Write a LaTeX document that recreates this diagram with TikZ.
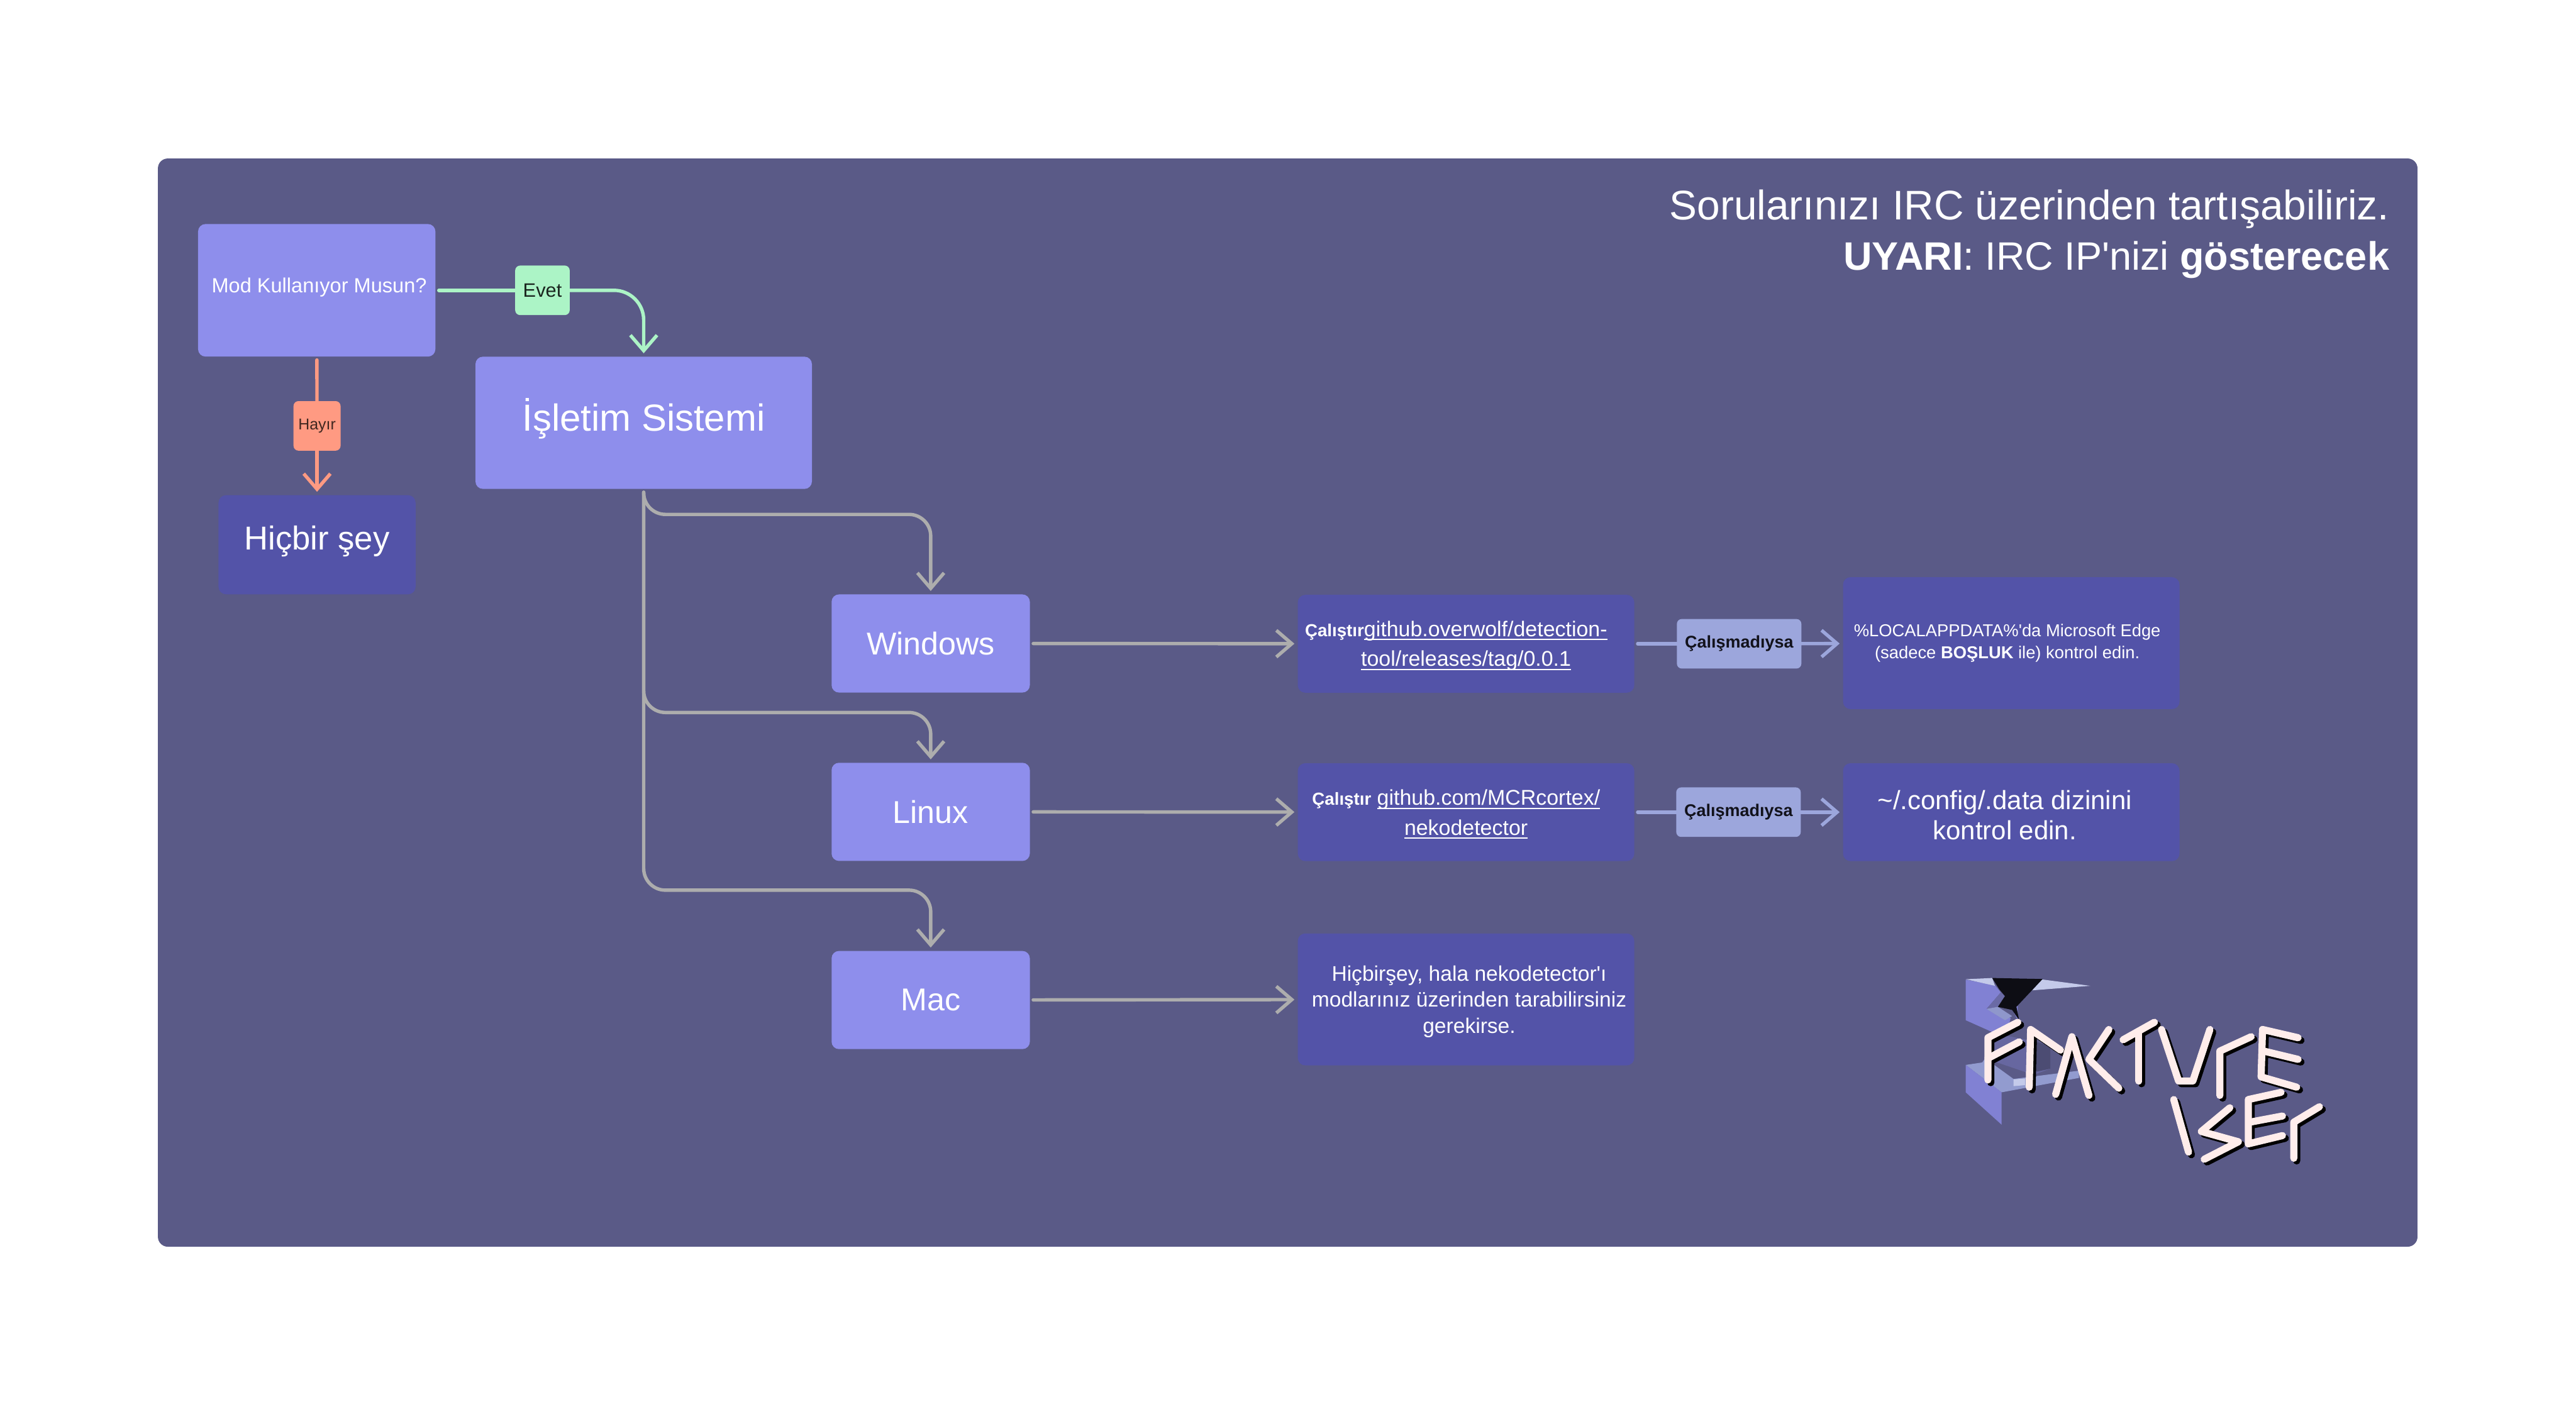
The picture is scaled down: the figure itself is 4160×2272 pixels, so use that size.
\documentclass[tikz,border=0pt]{standalone}
\usepackage{fontspec}
\setmainfont{Liberation Sans}
\usetikzlibrary{arrows.meta,calc,positioning,shapes}
\definecolor{panelcol}{HTML}{5A5A87}
\definecolor{lightcol}{HTML}{8E8EEC}
\definecolor{darkcol}{HTML}{5353A8}
\definecolor{yescol}{HTML}{ACF4C6}
\definecolor{nocol}{HTML}{FF9A82}
\definecolor{failcol}{HTML}{9CA6DC}
\definecolor{flowcol}{HTML}{ADADAD}
\definecolor{inkcol}{HTML}{FFEDEB}
\newcommand{\linkline}[1]{\leavevmode\setbox0\hbox{#1}\rlap{\rule[-1.7pt]{\wd0}{0.6pt}}\box0}
\newcommand{\dropline}[1]{\rule{0pt}{#1}}
\tikzset{
  every node/.style = {inner sep=0, outer sep=0.055cm, text=white, align=center},
  block/.style = {rectangle, rounded corners=0.12cm, minimum width=#1},
  light/.style = {block=3.2cm, fill=lightcol, minimum height=1.585cm, font=\fontsize{14.5}{18}\selectfont},
  dark/.style = {block=5.43cm, fill=darkcol},
  tag/.style = {rectangle, rounded corners=0.08cm, minimum height=0.8cm, outer sep=0, text=#1},
  fail/.style = {tag=black!80!panelcol, fill=failcol, minimum width=2.01cm, font=\fontsize{7.8}{10}\selectfont\bfseries},
  line/.style = {line width=0.055cm, line cap=round},
  arrow/.style = {line, -{Straight Barb[length=0.25cm, width=0.43cm]}},
  flow/.style = {arrow, draw=flowcol},
  inkback/.style = {line width=0.115cm, line cap=round, line join=round, draw=black},
  ink/.style = {line width=0.115cm, line cap=round, line join=round, draw=inkcol}
}
\begin{document}
\begin{tikzpicture}[x=0.01cm, y=-0.01cm]
  \useasboundingbox (0,0) rectangle (4160,2272);
  \fill[panelcol, rounded corners=0.16cm] (255,256) rectangle (3904,2014);

  \node[anchor=east, align=right, font=\fontsize{19}{23}\selectfont] (note) at (3864,378)
    {Sorularınızı IRC üzerinden tartışabiliriz.\\{\fontsize{18.2}{23}\selectfont\textbf{UYARI}: IRC IP\textquotesingle nizi \textbf{gösterecek}}};

  \node[block=3.83cm, fill=lightcol, minimum height=2.14cm, text height=0.33cm, text depth=0.25cm,
    font=\fontsize{9.4}{12}\selectfont] (mod) at (511.5,469) {\hspace*{0.8mm}Mod Kullanıyor Musun?};
  \node[block=5.43cm, fill=lightcol, minimum height=2.135cm, text height=0.6cm, text depth=0.33cm,
    font=\fontsize{17.3}{20}\selectfont] (os) at (1039.5,683) {İşletim Sistemi};
  \node[block=3.18cm, fill=darkcol, minimum height=1.6cm, text height=0.5cm, text depth=0.34cm,
    font=\fontsize{15.2}{18}\selectfont] (none) at (512,880) {Hiçbir şey};
  \node[tag=black!85!yescol, fill=yescol, minimum width=0.88cm, font=\fontsize{8.9}{10}\selectfont] (yes) at (876,469) {Evet};
  \node[tag=black!75!nocol, fill=nocol, minimum width=0.76cm, font=\fontsize{7.2}{9}\selectfont] (no) at (512,688) {Hayır};

  \foreach \name/\txt/\y in {win/Windows/1039.5, lin/Linux/1311.5, mac/Mac/1615.5} {
    \node[light] (\name) at (1503,\y) {\txt};
  }
  \node[dark, minimum height=1.58cm, font=\fontsize{9.8}{13.7}\selectfont] (winrun) at (2367.5,1040)
    {\dropline{9pt}\hspace*{-3.2mm}{\fontsize{8}{9}\selectfont\textbf{Çalıştır}}\linkline{github.overwolf/detection-}\\\linkline{tool/releases/tag/0.0.1}};
  \node[dark, minimum height=1.58cm, font=\fontsize{9.8}{13.7}\selectfont] (linrun) at (2367.5,1312)
    {\dropline{9pt}\hspace*{-3.2mm}{\fontsize{8}{9}\selectfont\textbf{Çalıştır}} \linkline{github.com/MCRcortex/}\\\linkline{nekodetector}};
  \node[dark, minimum height=2.13cm, font=\fontsize{9.7}{12}\selectfont] (macrun) at (2367.5,1614.5)
    {\dropline{9pt}\hspace*{1mm}Hiçbirşey, hala nekodetector\textquotesingle ı\\\hspace*{1mm}modlarınız üzerinden tarabilirsiniz\\\hspace*{1mm}gerekirse.};
  \node[fail] (winfail) at (2808.5,1040) {Çalışmadıysa};
  \node[fail] (linfail) at (2807.5,1312) {Çalışmadıysa};
  \node[dark, minimum height=2.13cm, font=\fontsize{7.9}{10.2}\selectfont] (winfix) at (3248,1039)
    {\hspace*{-1.3mm}\%LOCALAPPDATA\%\textquotesingle da Microsoft Edge\\\hspace*{-1.3mm}(sadece \textbf{BOŞLUK} ile) kontrol edin.};
  \node[dark, minimum height=1.58cm, font=\fontsize{12.1}{13.7}\selectfont] (linfix) at (3248,1312)
    {\dropline{11.5pt}\hspace*{-2.1mm}\textasciitilde/.config/.data dizinini\\\hspace*{-2.1mm}kontrol edin.};

  \draw[line, draw=yescol] (mod) -- (yes);
  \draw[arrow, draw=yescol, rounded corners=0.48cm] (yes.east) -| (os.north);
  \draw[line, draw=nocol] (mod) -- (no);
  \draw[arrow, draw=nocol] (no) -- (none);

  \foreach \name/\y in {win/831, lin/1151, mac/1438} {
    \draw[flow, rounded corners=0.35cm] (os.south) |- (\name.north |- 0,\y) -- (\name.north);
  }
  \foreach \a/\b in {win/winrun, lin/linrun, mac/macrun} {
    \draw[flow] (\a) -- (\b);
  }
  \foreach \a/\b/\c in {winrun/winfail/winfix, linrun/linfail/linfix} {
    \draw[line, draw=failcol] (\a) -- (\b);
    \draw[arrow, draw=failcol] (\b) -- (\c);
  }

  % logo
  \begin{scope}[shift={(3100,1520)}, x=0.00459cm, y=-0.00333cm]
    \fill[fill=lightcol!75!panelcol] (162,188) -- (265,215) -- (285,250) -- (235,330) -- (320,375) -- (300,470) -- (162,385) -- cycle;
    \fill[fill=lightcol!75!panelcol] (330,320) -- (345,315) -- (345,385) -- (330,345) -- cycle;
    \fill[fill=panelcol!70!lightcol] (285,250) -- (300,268) -- (275,320) -- (235,330) -- cycle;
    \fill[fill=failcol!80!panelcol] (235,330) -- (275,320) -- (325,365) -- (300,385) -- cycle;
    \fill[fill=failcol!60!white] (162,186) -- (255,180) -- (265,218) -- cycle;
    \fill[fill=failcol!60!white] (430,187) -- (600,218) -- (395,240) -- cycle;
    \fill[fill=black!85!panelcol] (255,180) -- (432,185) -- (340,320) -- (350,385) -- (325,335) -- (275,320) -- (300,268) -- (280,235) -- cycle;
    \fill[fill=panelcol!75!lightcol] (270,450) -- (410,490) -- (460,510) -- (460,620) -- (400,650) -- (230,570) -- cycle;
    \fill[fill=panelcol!85!black] (410,490) -- (460,510) -- (460,620) -- (410,635) -- cycle;
    \fill[fill=failcol!85!panelcol] (162,602) -- (220,590) -- (230,570) -- (330,670) -- (560,630) -- (560,665) -- (288,735) -- cycle;
    \fill[fill=failcol!60!white] (330,672) -- (370,668) -- (370,700) -- (330,705) -- cycle;
    \fill[fill=lightcol!75!panelcol] (162,602) -- (288,735) -- (288,892) -- (162,735) -- cycle;
    \foreach \sty/\dx/\dy in {inkback/10/13, ink/0/0} {
      \begin{scope}[shift={(\dx,\dy)}]
        \draw[\sty] (345,395) -- (240,470) -- (240,675);
        \draw[\sty] (350,490) -- (240,570);
        \draw[\sty] (385,710) -- (390,430) -- (495,530);
        \draw[\sty] (478,745) -- (535,465) -- (595,750);
        \draw[\sty] (665,430) -- (595,575) -- (700,715);
        \draw[\sty] (715,480) -- (825,395);
        \draw[\sty] (770,440) -- (770,680);
        \draw[\sty] (850,430) -- (910,680) -- (960,680) -- (1020,430);
        \draw[\sty] (1055,750) -- (1055,535) -- (1165,465);
        \draw[\sty] (1330,470) -- (1205,430) -- (1200,660) -- (1325,710);
        \draw[\sty] (1210,535) -- (1330,575);
        \draw[\sty] (893,770) -- (945,1025);
        \draw[\sty] (1090,810) -- (990,925) -- (1120,975) -- (1000,1060);
        \draw[\sty] (1270,735) -- (1155,770) -- (1155,985) -- (1275,945);
        \draw[\sty] (1160,880) -- (1275,850);
        \draw[\sty] (1315,1055) -- (1315,880) -- (1405,805);
      \end{scope}
    }
  \end{scope}
\end{tikzpicture}
\end{document}
